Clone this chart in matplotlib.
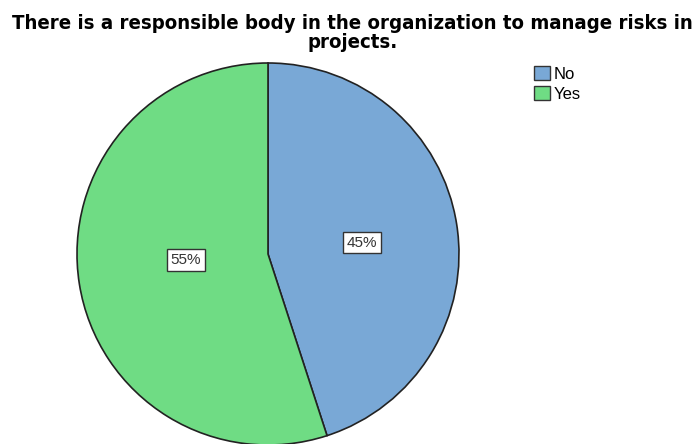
import matplotlib.pyplot as plt

labels = ['No', 'Yes']
values = [45, 55]
colors = ['#79a8d6', '#6fdc84']
title = 'There is a responsible body in the organization to manage risks in\nprojects.'

plt.rcParams['font.family'] = ['Liberation Sans', 'DejaVu Sans']

fig = plt.figure(figsize=(6.98, 4.44), dpi=100)
ax = fig.add_axes([77 / 698, -1 / 444, 382 / 698, 382 / 444])

wedges, texts, autotexts = ax.pie(
    values, colors=colors, startangle=90, counterclock=False,
    autopct='%1.0f%%', pctdistance=0.48,
    wedgeprops=dict(edgecolor='#222222', linewidth=1.2),
    textprops=dict(fontsize=11, color='#333333'))

# boxed percentage labels
for t in autotexts:
    t.set_bbox(dict(boxstyle='square,pad=0.25', facecolor='white',
                    edgecolor='#333333', linewidth=1))
autotexts[1].set_position((-0.43, -0.03))
autotexts[0].set_position((0.49, 0.06))

ax.set_xlim(-1.0, 1.0)
ax.set_ylim(-1.0, 1.0)
ax.set_aspect('equal')

fig.suptitle(title, fontsize=14.6, fontweight='bold', family='DejaVu Sans',
             fontstretch='condensed', x=0.505, y=0.968, linespacing=1.0)

leg = fig.legend(wedges, labels, loc='upper left',
                 bbox_to_anchor=(519 / 698, 1 - 51 / 444),
                 frameon=False, fontsize=12, handlelength=0.95,
                 handleheight=0.95, handletextpad=0.2, labelspacing=0.25)
for h in leg.legend_handles:
    h.set_edgecolor('#333333')
    h.set_linewidth(1)

fig.savefig('out.png', dpi=100)
